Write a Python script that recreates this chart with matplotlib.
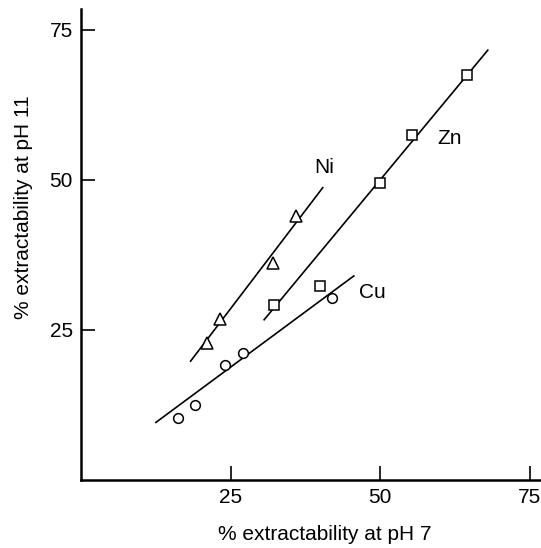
import matplotlib.pyplot as plt

plt.rcParams['font.family'] = ['Liberation Sans', 'DejaVu Sans']

# Data (% extractability, pH 7 vs pH 11)
ni_x = [21.0, 23.2, 32.0, 35.9]
ni_y = [22.8, 26.8, 36.2, 44.0]
ni_fit_x = [18.3, 40.4]
ni_fit_y = [19.8, 48.7]

zn_x = [32.3, 40.0, 50.0, 55.4, 64.6]
zn_y = [29.1, 32.3, 49.5, 57.4, 67.5]
zn_fit_x = [30.6, 68.0]
zn_fit_y = [26.7, 71.6]

cu_x = [16.2, 19.1, 24.1, 27.1, 41.9]
cu_y = [10.4, 12.5, 19.1, 21.1, 30.3]
cu_fit_x = [12.5, 45.6]
cu_fit_y = [9.6, 34.0]

ticks = [25, 50, 75]

fig = plt.figure(figsize=(5.41, 5.48), dpi=100)
ax = fig.add_axes([0.150, 0.124, 0.85, 0.860])

mk = dict(linestyle='none', markerfacecolor='white', markeredgecolor='black',
          markeredgewidth=1.1, zorder=3)
ax.plot(ni_fit_x, ni_fit_y, color='black', linewidth=1.2)
ax.plot(zn_fit_x, zn_fit_y, color='black', linewidth=1.2)
ax.plot(cu_fit_x, cu_fit_y, color='black', linewidth=1.2)
ax.plot(ni_x, ni_y, marker='^', markersize=8, **mk)
ax.plot(zn_x, zn_y, marker='s', markersize=7, **mk)
ax.plot(cu_x, cu_y, marker='o', markersize=7, **mk)

ax.text(40.6, 52.0, 'Ni', fontsize=15, ha='center', va='center')
ax.text(61.6, 56.9, 'Zn', fontsize=15, ha='center', va='center')
ax.text(48.7, 31.3, 'Cu', fontsize=15, ha='center', va='center')

ax.set_xlim(0, 76.9)
ax.set_ylim(0, 78.5)
ax.set_xticks(ticks)
ax.set_yticks(ticks)
ax.tick_params(direction='in', length=10, width=1.2, labelsize=15, pad=6)
for s in ['top', 'right']:
    ax.spines[s].set_visible(False)
for s in ['left', 'bottom']:
    ax.spines[s].set_linewidth(1.8)

ax.set_xlabel('% extractability at pH 7', fontsize=15)
ax.set_ylabel('% extractability at pH 11', fontsize=15)
ax.xaxis.set_label_coords(0.53, -0.095)
ax.yaxis.set_label_coords(-0.104, 0.58)

fig.savefig('out.png', dpi=100)
